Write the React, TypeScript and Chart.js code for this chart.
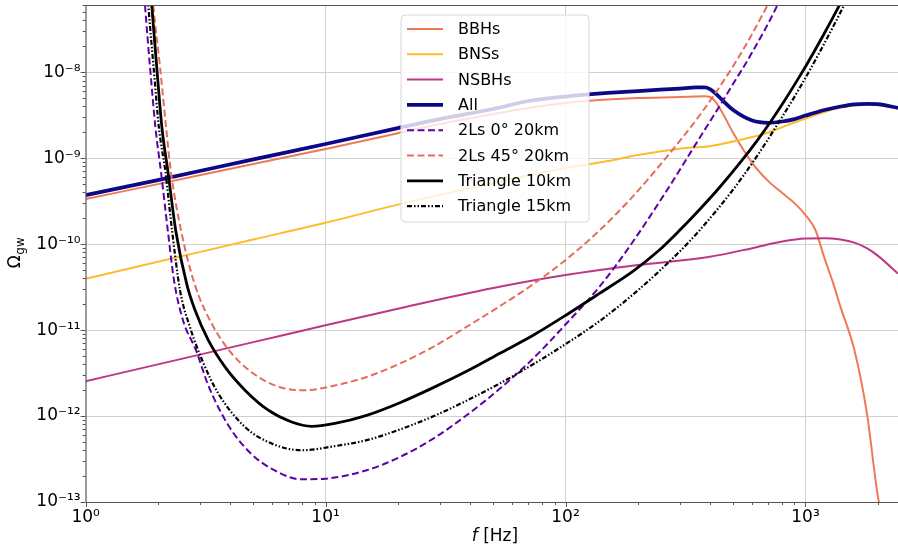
import React, { useEffect, useRef } from 'react';
import { Chart, registerables } from 'chart.js';

Chart.register(...registerables);

// ---------------- data (frequency in Hz, Omega_gw) ----------------
const bbhFreq = [1, 2, 5, 10, 20, 30, 50, 70, 100, 150, 200, 300, 350, 380, 400, 420, 450, 500, 600, 700, 800, 900, 1000, 1100, 1200, 1300, 1400, 1600, 1800, 2000, 2100];
const bbhOmega = [3.34e-10, 4.99e-10, 8.57e-10, 1.28e-9, 1.95e-9, 2.49e-9, 3.26e-9, 3.83e-9, 4.38e-9, 4.81e-9, 5.01e-9, 5.14e-9, 5.21e-9, 5.24e-9, 5.14e-9, 4.62e-9, 3.39e-9, 1.96e-9, 8.77e-10, 5.41e-10, 3.93e-10, 3.0e-10, 2.18e-10, 1.46e-10, 6.87e-11, 3.61e-11, 1.85e-11, 5.83e-12, 1.11e-12, 1.2e-13, 6.1e-14];

const bnsFreq = [1, 2, 5, 10, 20, 50, 100, 150, 200, 300, 400, 500, 600, 700, 800, 1000, 1200, 1400, 1600, 1800, 2000, 2430];
const bnsOmega = [3.96e-11, 6.22e-11, 1.13e-10, 1.77e-10, 2.88e-10, 5.13e-10, 7.67e-10, 9.25e-10, 1.09e-9, 1.29e-9, 1.38e-9, 1.56e-9, 1.76e-9, 1.99e-9, 2.3e-9, 2.89e-9, 3.44e-9, 3.88e-9, 4.09e-9, 4.17e-9, 4.13e-9, 3.78e-9];

const nsbhFreq = [1, 2, 5, 10, 20, 50, 100, 200, 400, 600, 800, 1000, 1200, 1400, 1600, 1800, 2000, 2430];
const nsbhOmega = [2.54e-12, 3.99e-12, 7.24e-12, 1.14e-11, 1.77e-11, 3.08e-11, 4.36e-11, 5.7e-11, 7.14e-11, 8.97e-11, 1.07e-10, 1.16e-10, 1.17e-10, 1.13e-10, 1.04e-10, 8.97e-11, 7.35e-11, 4.54e-11];

const allFreq = [1, 2, 5, 10, 20, 30, 50, 70, 100, 150, 200, 300, 350, 380, 400, 420, 450, 500, 600, 700, 800, 900, 1000, 1200, 1400, 1600, 1800, 2000, 2430];
const allOmega = [3.71e-10, 5.56e-10, 9.68e-10, 1.46e-9, 2.24e-9, 2.85e-9, 3.73e-9, 4.62e-9, 5.21e-9, 5.73e-9, 6.04e-9, 6.46e-9, 6.64e-9, 6.67e-9, 6.37e-9, 5.73e-9, 4.74e-9, 3.63e-9, 2.74e-9, 2.58e-9, 2.67e-9, 2.85e-9, 3.13e-9, 3.63e-9, 3.99e-9, 4.23e-9, 4.29e-9, 4.24e-9, 3.85e-9];

const ls0Freq = [1.743, 1.768, 1.855, 1.956, 2.062, 2.205, 2.335, 2.546, 2.884, 3.245, 3.932, 4.922, 6.353, 7.823, 9.943, 14.84, 20.42, 28.11, 38.71, 53.3, 73.35, 101.1, 139.1, 182.5, 263.8, 363.1, 426.3, 499.7, 586.7, 757.9, 797.5];
const ls0Omega = [1.06e-7, 6.05e-8, 1.16e-8, 2.24e-9, 6.88e-10, 1.38e-10, 3.81e-11, 1.3e-11, 5.83e-12, 2.28e-12, 7.82e-13, 3.59e-13, 2.22e-13, 1.84e-13, 1.87e-13, 2.34e-13, 3.34e-13, 5.47e-13, 1.02e-12, 2.09e-12, 4.68e-12, 1.2e-11, 3.24e-11, 8.91e-11, 4.17e-10, 1.74e-9, 3.55e-9, 7.33e-9, 1.53e-8, 5.75e-8, 7.94e-8];

const ls45Freq = [1.887, 1.915, 2.042, 2.177, 2.262, 2.514, 2.857, 3.352, 4.062, 5.244, 6.775, 8.209, 10.94, 14.84, 20.42, 28.11, 38.71, 53.3, 73.35, 101.1, 139.1, 191.4, 263.8, 363.1, 499.7, 586.7, 688.6, 724.4];
const ls45Omega = [1.06e-7, 6.05e-8, 1.16e-8, 1.95e-9, 7.27e-10, 1.33e-10, 3.33e-11, 1.19e-11, 5.34e-12, 2.85e-12, 2.09e-12, 2.0e-12, 2.27e-12, 2.85e-12, 4.08e-12, 6.37e-12, 1.09e-11, 1.9e-11, 3.42e-11, 6.69e-11, 1.46e-10, 3.62e-10, 1.03e-9, 3.18e-9, 1.18e-8, 2.5e-8, 5.74e-8, 7.5e-8];

const tri10Freq = [1.855, 1.886, 1.978, 2.081, 2.205, 2.38, 2.646, 2.857, 3.245, 3.809, 4.615, 5.771, 7.224, 8.754, 10.94, 14.84, 20.42, 28.11, 38.71, 53.3, 73.35, 101.1, 139.1, 191.4, 243.4, 299.8, 363.1, 440.0, 533.0, 625.7, 710.8, 807.4, 947.7, 1011, 1185, 1391, 1531];
const tri10Omega = [1.06e-7, 6.05e-8, 1.16e-8, 2.24e-9, 6.88e-10, 1.38e-10, 3.33e-11, 1.71e-11, 7.62e-12, 3.73e-12, 2.0e-12, 1.17e-12, 8.53e-13, 7.6e-13, 8.22e-13, 1.02e-12, 1.43e-12, 2.14e-12, 3.31e-12, 5.37e-12, 8.71e-12, 1.51e-11, 2.69e-11, 4.85e-11, 8.3e-11, 1.46e-10, 2.55e-10, 4.62e-10, 8.79e-10, 1.57e-9, 2.58e-9, 4.4e-9, 9.04e-9, 1.22e-8, 2.67e-8, 6.14e-8, 1.04e-7];

const tri15Freq = [1.799, 1.825, 1.919, 2.022, 2.152, 2.291, 2.474, 2.723, 3.085, 3.572, 4.615, 5.962, 7.952, 10.94, 14.84, 20.42, 28.11, 38.71, 53.3, 73.35, 101.1, 139.1, 204.2, 299.8, 363.1, 499.7, 625.7, 782.3, 947.7, 1148, 1348, 1460, 1531];
const tri15Omega = [1.06e-7, 6.05e-8, 1.16e-8, 2.24e-9, 6.88e-10, 1.46e-10, 2.91e-11, 1.08e-11, 4.23e-12, 1.83e-12, 7.46e-13, 4.79e-13, 4.0e-13, 4.47e-13, 5.24e-13, 6.98e-13, 9.93e-13, 1.51e-12, 2.4e-12, 4.0e-12, 7.0e-12, 1.28e-11, 3.04e-11, 8.26e-11, 1.46e-10, 4.32e-10, 1.04e-9, 2.74e-9, 6.62e-9, 1.73e-8, 4.05e-8, 6.28e-8, 8.2e-8];

// ---------------- axes ----------------
const xMajorTicks = [1, 10, 100, 1000];
const xTickLabels = ['10⁰', '10¹', '10²', '10³'];
const yMajorTicks = [1e-13, 1e-12, 1e-11, 1e-10, 1e-9, 1e-8];
const yTickLabels = ['10⁻¹³', '10⁻¹²', '10⁻¹¹', '10⁻¹⁰', '10⁻⁹', '10⁻⁸'];
const X_MIN = 1;
const X_MAX = 2430;
const Y_MIN = 1e-13;
const Y_MAX = 6.05e-8;

const FONT = "'DejaVu Sans', 'Noto Sans', sans-serif";

type TickItem = { value: number; major: boolean };

function logTicks(min: number, max: number): TickItem[] {
  const out: TickItem[] = [];
  const e0 = Math.floor(Math.log10(min) + 1e-9);
  const e1 = Math.ceil(Math.log10(max));
  for (let e = e0; e <= e1; e++) {
    for (let m = 1; m <= 9; m++) {
      const v = m * Math.pow(10, e);
      if (v >= min * 0.9999 && v <= max * 1.0001) out.push({ value: v, major: m === 1 });
    }
  }
  return out;
}

function labelFor(v: number, majors: number[], labels: string[]): string {
  for (let i = 0; i < majors.length; i++) {
    if (Math.abs(v - majors[i]) / majors[i] < 1e-6) return labels[i];
  }
  return '';
}

const xTicks = logTicks(X_MIN, X_MAX);
const yTicks = logTicks(Y_MIN, Y_MAX);

const seriesDefs = [
  { label: 'BBHs', freq: bbhFreq, omega: bbhOmega, color: '#ee7a55', width: 2, dash: [] as number[] },
  { label: 'BNSs', freq: bnsFreq, omega: bnsOmega, color: '#fdbb2e', width: 2, dash: [] as number[] },
  { label: 'NSBHs', freq: nsbhFreq, omega: nsbhOmega, color: '#bd3786', width: 2, dash: [] as number[] },
  { label: 'All', freq: allFreq, omega: allOmega, color: '#0d0887', width: 3.75, dash: [] as number[] },
  { label: '2Ls 0° 20km', freq: ls0Freq, omega: ls0Omega, color: '#5c01a6', width: 2, dash: [7, 3.5] },
  { label: '2Ls 45° 20km', freq: ls45Freq, omega: ls45Omega, color: '#e66c5c', width: 2, dash: [7, 3.5] },
  { label: 'Triangle 10km', freq: tri10Freq, omega: tri10Omega, color: '#000000', width: 2.8, dash: [] as number[] },
  { label: 'Triangle 15km', freq: tri15Freq, omega: tri15Omega, color: '#000000', width: 2.2, dash: [5, 2, 1.5, 2, 1.5, 2] },
];

const decorPlugin = {
  id: 'decor',
  afterDatasetsDraw(chart: any) {
    const ctx: CanvasRenderingContext2D = chart.ctx;
    // legend box
    const bx = 401, by = 15, bw = 188, bh = 207, r = 4;
    ctx.save();
    ctx.beginPath();
    ctx.moveTo(bx + r, by);
    ctx.lineTo(bx + bw - r, by);
    ctx.arcTo(bx + bw, by, bx + bw, by + r, r);
    ctx.lineTo(bx + bw, by + bh - r);
    ctx.arcTo(bx + bw, by + bh, bx + bw - r, by + bh, r);
    ctx.lineTo(bx + r, by + bh);
    ctx.arcTo(bx, by + bh, bx, by + bh - r, r);
    ctx.lineTo(bx, by + r);
    ctx.arcTo(bx, by, bx + r, by, r);
    ctx.closePath();
    ctx.fillStyle = 'rgba(255,255,255,0.8)';
    ctx.fill();
    ctx.strokeStyle = '#d8d8d8';
    ctx.lineWidth = 1;
    ctx.stroke();

    ctx.font = `16px ${FONT}`;
    ctx.textBaseline = 'middle';
    ctx.textAlign = 'left';
    chart.data.datasets.forEach((ds: any, i: number) => {
      const yy = 29 + i * 25.3;
      ctx.beginPath();
      ctx.setLineDash(ds.borderDash || []);
      ctx.strokeStyle = ds.borderColor;
      ctx.lineWidth = ds.borderWidth;
      ctx.lineCap = 'butt';
      ctx.moveTo(407, yy);
      ctx.lineTo(443, yy);
      ctx.stroke();
      ctx.setLineDash([]);
      ctx.fillStyle = '#000';
      ctx.fillText(ds.label, 458, yy + 1);
    });
    ctx.restore();
  },
  afterDraw(chart: any) {
    const ctx: CanvasRenderingContext2D = chart.ctx;
    const ca = chart.chartArea;
    const xs = chart.scales.x;
    const ys = chart.scales.y;
    ctx.save();
    ctx.strokeStyle = '#555';
    ctx.lineWidth = 1;
    // spines
    ctx.beginPath();
    ctx.moveTo(ca.left + 0.5, ca.top + 0.5);
    ctx.lineTo(ca.right, ca.top + 0.5);
    ctx.moveTo(ca.left + 0.5, ca.top);
    ctx.lineTo(ca.left + 0.5, ca.bottom + 0.5);
    ctx.lineTo(ca.right, ca.bottom + 0.5);
    ctx.stroke();
    // tick marks
    ctx.beginPath();
    xTicks.forEach((t) => {
      const px = Math.round(xs.getPixelForValue(t.value)) + 0.5;
      const len = t.major ? 5 : 3;
      ctx.moveTo(px, ca.bottom);
      ctx.lineTo(px, ca.bottom + len);
    });
    yTicks.forEach((t) => {
      const py = Math.round(ys.getPixelForValue(t.value)) + 0.5;
      const len = t.major ? 5 : 3;
      ctx.moveTo(ca.left, py);
      ctx.lineTo(ca.left - len, py);
    });
    ctx.stroke();

    // x-axis title: f [Hz]
    ctx.fillStyle = '#000';
    ctx.textBaseline = 'alphabetic';
    ctx.textAlign = 'left';
    const italic = `italic 17px ${FONT}`;
    const normal = `17px ${FONT}`;
    ctx.font = italic;
    const wf = ctx.measureText('f').width;
    ctx.font = normal;
    const wr = ctx.measureText(' [Hz]').width;
    const cx = 495;
    const startX = cx - (wf + wr) / 2;
    ctx.font = italic;
    ctx.fillText('f', startX, 541);
    ctx.font = normal;
    ctx.fillText(' [Hz]', startX + wf, 541);

    // y-axis title: Omega_gw
    ctx.translate(20, 253);
    ctx.rotate(-Math.PI / 2);
    ctx.font = `17px ${FONT}`;
    const wo = ctx.measureText('Ω').width;
    ctx.font = `12px ${FONT}`;
    const wg = ctx.measureText('gw').width;
    const sx = -(wo + wg) / 2;
    ctx.font = `17px ${FONT}`;
    ctx.fillText('Ω', sx, 0);
    ctx.font = `12px ${FONT}`;
    ctx.fillText('gw', sx + wo + 0.5, 4);
    ctx.restore();
  },
};

export default function App() {
  const ref = useRef<HTMLCanvasElement>(null);
  useEffect(() => {
    document.body.style.margin = '0';
    const datasets = seriesDefs.map((s, i) => ({
      label: s.label,
      data: s.freq.map((f, k) => ({ x: f, y: s.omega[k] })),
      borderColor: s.color,
      backgroundColor: s.color,
      borderWidth: s.width,
      borderDash: s.dash,
      borderCapStyle: 'butt' as const,
      borderJoinStyle: 'round' as const,
      pointRadius: 0,
      pointHoverRadius: 0,
      fill: false,
      cubicInterpolationMode: 'monotone' as const,
      clip: 0,
      order: seriesDefs.length - i,
    }));
    const chart = new Chart(ref.current as HTMLCanvasElement, {
      type: 'line',
      data: { datasets },
      plugins: [decorPlugin],
      options: {
        responsive: false,
        maintainAspectRatio: false,
        animation: false,
        devicePixelRatio: 1,
        events: [],
        layout: { padding: { top: 5, left: 0, right: 0, bottom: 0 } },
        plugins: { legend: { display: false }, tooltip: { enabled: false }, title: { display: false } },
        scales: {
          x: {
            type: 'logarithmic',
            min: X_MIN,
            max: X_MAX,
            afterBuildTicks: (s: any) => {
              s.ticks = xTicks.map((t) => ({ value: t.value, major: t.major }));
            },
            afterFit: (s: any) => {
              s.height = 45;
              s.paddingLeft = 0;
              s.paddingRight = 0;
            },
            ticks: {
              autoSkip: false,
              maxRotation: 0,
              minRotation: 0,
              padding: 5,
              color: '#000',
              font: { family: FONT, size: 17 },
              callback: (v: any) => labelFor(Number(v), xMajorTicks, xTickLabels),
            },
            grid: {
              drawTicks: false,
              lineWidth: 1,
              color: (c: any) => (c.tick && c.tick.major ? '#d0d0d0' : 'rgba(0,0,0,0)'),
            },
            border: { display: false },
          },
          y: {
            type: 'logarithmic',
            min: Y_MIN,
            max: Y_MAX,
            afterBuildTicks: (s: any) => {
              s.ticks = yTicks.map((t) => ({ value: t.value, major: t.major }));
            },
            afterFit: (s: any) => {
              s.width = 85.6;
              s.paddingTop = 0;
              s.paddingBottom = 0;
            },
            ticks: {
              autoSkip: false,
              padding: 5,
              color: '#000',
              font: { family: FONT, size: 17 },
              callback: (v: any) => labelFor(Number(v), yMajorTicks, yTickLabels),
            },
            grid: {
              drawTicks: false,
              lineWidth: 1,
              color: (c: any) => (c.tick && c.tick.major ? '#d0d0d0' : 'rgba(0,0,0,0)'),
            },
            border: { display: false },
          },
        },
      } as any,
    });
    return () => chart.destroy();
  }, []);
  return (
    <div style={{ position: 'absolute', left: 0, top: 0, width: 898, height: 547 }}>
      <canvas ref={ref} width={898} height={547} style={{ display: 'block', width: 898, height: 547 }} />
    </div>
  );
}
